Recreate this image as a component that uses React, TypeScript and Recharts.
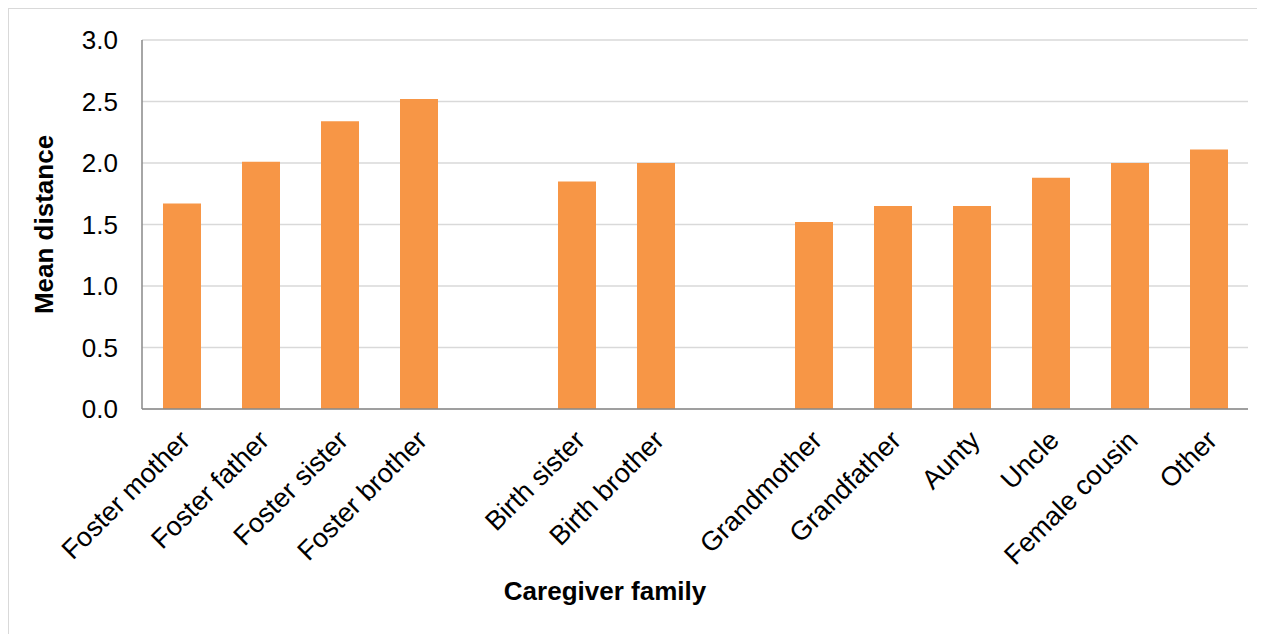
import React from 'react';
import { BarChart, Bar, XAxis, YAxis, CartesianGrid } from 'recharts';

// empty strings are the gaps between the three groups
const categories = [
  'Foster mother', 'Foster father', 'Foster sister', 'Foster brother',
  '',
  'Birth sister', 'Birth brother',
  ' ',
  'Grandmother', 'Grandfather', 'Aunty', 'Uncle', 'Female cousin', 'Other'
];
const meanDistance = [1.67, 2.01, 2.34, 2.52, null, 1.85, 2.0, null, 1.52, 1.65, 1.65, 1.88, 2.0, 2.11];
const yTicks = [0, 0.5, 1, 1.5, 2, 2.5, 3];

const chartData = categories.map((name, i) => ({ name, value: meanDistance[i] }));

const FONT = '"Liberation Sans", Arial, sans-serif';

const RotatedTick = (props: any) => {
  const { x, y, payload } = props;
  const tx = x + 10;
  const ty = y + 25;
  return (
    <text
      x={tx}
      y={ty}
      transform={`rotate(-45, ${tx}, ${ty})`}
      textAnchor="end"
      fontSize={27}
      fontFamily={FONT}
      fill="#000"
    >
      {payload.value}
    </text>
  );
};

const XTitle = (props: any) => {
  const { viewBox } = props;
  const cx = viewBox.x + viewBox.width / 2 - 90;
  return (
    <text x={cx} y={591} textAnchor="middle" fontSize={26} fontWeight="bold" fontFamily={FONT} fill="#000">
      Caregiver family
    </text>
  );
};

const App: React.FC = () => {
  return (
    <div style={{ width: 1280, height: 640, border: '1px solid #d9d9d9', background: '#fff' }}>
      <BarChart
        width={1265}
        height={625}
        data={chartData}
        margin={{ top: 31, right: 26, left: 0, bottom: 0 }}
      >
        <CartesianGrid vertical={false} stroke="#d9d9d9" strokeWidth={1.5} />
        <XAxis
          dataKey="name"
          height={225}
          interval={0}
          tickLine={false}
          axisLine={{ stroke: '#898989', strokeWidth: 1.5 }}
          tick={<RotatedTick />}
          label={<XTitle />}
        />
        <YAxis
          width={133}
          domain={[0, 3]}
          ticks={yTicks}
          tickFormatter={(v: number) => v.toFixed(1)}
          tickLine={false}
          tickMargin={18}
          axisLine={{ stroke: '#898989', strokeWidth: 1.5 }}
          tick={{ fontSize: 26, fill: '#000', fontFamily: FONT }}
          label={{
            value: 'Mean distance',
            angle: -90,
            position: 'insideLeft',
            dx: 30,
            style: { fontSize: 26, fontWeight: 'bold', fill: '#000', fontFamily: FONT, textAnchor: 'middle' }
          }}
        />
        <Bar dataKey="value" fill="#F79646" barSize={38} isAnimationActive={false} />
      </BarChart>
    </div>
  );
};

export default App;
